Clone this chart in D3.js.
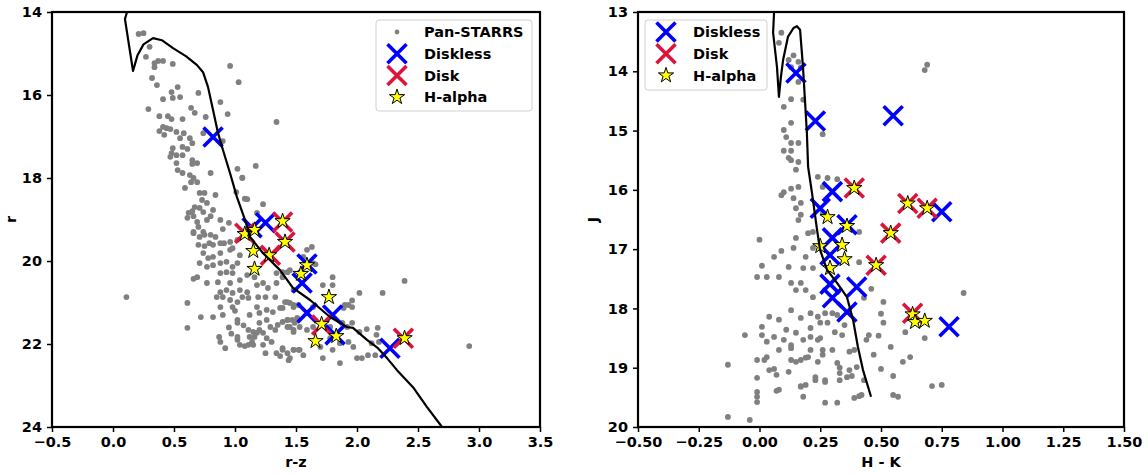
<!DOCTYPE html>
<html>
<head>
<meta charset="utf-8">
<script src="https://cdn.jsdelivr.net/npm/d3@7"></script>
<style>
  html, body { margin: 0; padding: 0; background: #fff; }
  svg text { font-family: "DejaVu Sans", sans-serif; font-weight: bold; }
</style>
</head>
<body>
<svg id="chart" width="1148" height="474"></svg>
<script>
// ---------- Left panel: r vs r-z ----------
const leftXTicks = [-0.5, 0.0, 0.5, 1.0, 1.5, 2.0, 2.5, 3.0, 3.5];
const leftYTicks = [14, 16, 18, 20, 22, 24];

// Pan-STARRS field stars [r-z, r]
const panstarrs = [
  [0.21,14.53],[0.25,14.51],[0.30,14.84],[0.27,15.08],[0.34,15.23],[0.37,15.18],[0.41,15.18],[0.34,15.33],
  [0.49,15.25],[0.96,15.30],[0.32,15.59],[0.36,15.76],[1.03,15.69],[0.48,15.93],[0.53,15.81],[0.41,16.10],
  [0.49,16.07],[0.55,16.05],[0.70,15.95],[0.29,16.34],[0.64,16.31],[0.67,16.43],[0.88,16.17],[0.94,16.46],
  [0.38,16.51],[0.45,16.51],[0.48,16.58],[0.57,16.58],[0.76,16.53],[1.34,16.65],[0.38,16.87],[0.41,16.77],
  [0.44,16.80],[0.47,16.82],[0.42,16.96],[0.52,16.89],[0.58,16.92],[0.74,16.92],[0.55,17.04],[0.63,17.04],
  [0.65,17.16],[0.90,17.11],[0.49,17.28],[0.57,17.25],[0.61,17.30],[0.48,17.40],[0.52,17.45],[0.57,17.45],
  [0.47,17.49],[0.65,17.57],[0.69,17.64],[0.65,17.66],[1.17,17.71],[1.02,17.78],[0.52,17.64],[0.53,17.81],
  [0.57,17.88],[0.80,17.88],[1.06,18.00],[0.63,17.93],[0.66,18.00],[0.64,18.10],[0.69,18.10],[0.59,18.24],
  [1.01,18.34],[0.71,18.36],[0.75,18.36],[0.84,18.41],[1.10,18.51],[0.73,18.53],[0.77,18.60],[1.23,18.63],
  [0.67,18.70],[0.71,18.72],[0.65,18.80],[0.62,18.84],[0.66,18.92],[0.61,18.96],[0.74,18.82],[0.82,18.77],
  [0.80,18.92],[0.77,19.01],[0.69,19.06],[0.70,19.18],[0.88,19.01],[0.95,19.08],[0.90,19.23],[0.66,19.30],
  [0.74,19.30],[0.80,19.37],[0.84,19.42],[1.18,18.84],
  [0.66,19.33],[0.71,19.42],[0.75,19.37],[0.70,19.61],[0.75,19.64],[0.79,19.57],[0.82,19.61],[0.88,19.57],
  [0.91,19.57],[0.96,19.54],[0.98,19.69],[1.02,19.49],[0.88,19.81],[0.96,19.73],[1.04,19.86],[0.74,19.81],
  [0.78,19.93],[0.82,19.90],[0.71,20.05],[0.77,20.14],[0.82,20.10],[0.88,20.05],[0.93,20.02],[0.98,20.14],
  [1.02,20.05],[0.88,20.29],[0.93,20.27],[0.98,20.29],[1.04,20.46],[0.69,20.39],[0.66,20.43],[0.77,20.53],
  [0.86,20.51],[0.96,20.53],[0.88,20.75],[0.93,20.70],[0.98,20.77],[1.04,20.70],[1.10,20.75],[0.85,20.87],
  [0.90,20.87],[0.96,20.94],[1.02,20.99],[1.06,20.87],[1.11,20.89],[0.11,20.87],[0.61,21.01],[0.88,21.11],
  [0.98,21.11],[0.90,21.30],[0.72,21.35],[0.82,21.35],[1.02,21.42],[1.02,21.49],[0.61,21.61],[0.87,21.83],
  [0.88,21.95],[0.92,22.10],[1.02,21.90],[1.02,21.83],[1.11,21.66],[1.15,21.71],[1.12,21.83],[1.16,21.83],
  [1.18,21.73],[1.20,21.66],[1.23,21.73],[1.26,21.86],[1.04,22.02],[1.08,22.05],[1.11,22.02],[1.15,22.02],
  [1.23,22.02],[1.25,22.22],[1.34,22.22],[1.37,22.29],[1.39,22.14],[1.43,22.22],[1.44,22.39],[1.48,22.14],
  [1.52,22.14],[1.29,21.59],[1.33,21.66],[1.35,21.54],[1.43,21.42],[1.47,21.42],[1.49,21.49],[1.43,21.59],
  [1.48,21.66],[1.20,21.49],[1.26,21.42],[1.31,21.23],[1.37,21.13],[1.41,20.99],[1.45,21.01],[1.20,21.25],
  [1.26,21.18],[1.18,21.11],[1.19,20.87],[1.25,20.87],[1.33,20.87],[1.18,20.58],[1.23,20.53],[1.34,20.53],
  [1.27,20.65],[1.16,20.39],[1.10,20.34],[1.34,20.29],[1.39,20.39],[1.48,20.70],[1.48,21.11],
  [1.63,19.66],[1.59,19.73],[1.56,19.90],[1.43,20.27],[1.39,20.27],[1.45,20.22],[2.39,20.48],[2.02,20.77],
  [2.21,20.77],[1.80,20.39],[1.72,20.58],[1.80,20.58],[1.43,20.99],[1.39,21.13],[1.48,21.06],[1.52,21.06],
  [1.64,21.11],[1.90,21.06],[1.93,21.06],[1.96,21.11],[1.89,21.13],[1.43,21.42],[1.51,21.37],[1.39,21.47],
  [1.45,21.59],[1.48,21.71],[1.53,21.59],[1.59,21.66],[1.64,21.59],[1.78,21.59],[1.88,21.49],[1.92,21.59],
  [1.96,21.49],[2.02,21.71],[2.08,21.64],[2.17,21.61],[2.16,21.78],[1.93,21.95],[1.86,21.98],[1.78,21.86],
  [1.97,22.07],[2.12,21.98],[2.18,21.95],[1.39,22.10],[1.48,22.14],[1.53,22.14],[1.56,22.27],[1.45,22.34],
  [1.70,22.07],[1.72,22.34],[1.80,22.14],[1.86,22.46],[2.00,22.34],[2.04,22.34],[2.09,22.27],[2.15,22.27],
  [2.92,22.05],[1.06,17.99],[1.08,18.50],[1.64,20.05],[1.66,20.08],[1.96,20.95],
  [0.95,21.60],[0.97,21.75],[1.07,21.55],[1.14,21.95],[1.30,21.95],[1.00,21.20],[1.12,21.30]
];
const disklessRZ = [
  [0.82,17.01],[1.25,19.08],[1.14,19.20],[1.59,20.07],[1.55,20.53],[1.59,21.25],[1.80,21.30],[1.82,21.78],[2.27,22.10]
];
const diskRZ = [
  [1.39,19.06],[1.08,19.33],[1.41,19.54],[1.29,19.86],[1.71,21.54],[2.38,21.86]
];
const halphaRZ = [
  [1.39,19.04],[1.16,19.25],[1.08,19.35],[1.41,19.54],[1.15,19.76],[1.28,19.86],[1.16,20.19],
  [1.59,20.10],[1.54,20.31],[1.77,20.87],[1.71,21.52],[1.83,21.81],[1.66,21.93],[2.39,21.86]
];
const isochroneRZ = [
  [0.115,14.0],[0.098,14.17],[0.164,15.42],[0.200,15.05],[0.250,14.78],[0.328,14.63],[0.40,14.68],[0.492,14.87],
  [0.600,15.07],[0.689,15.28],[0.738,15.45],[0.779,15.81],[0.820,16.36],[0.861,16.92],[0.902,17.33],
  [0.959,17.88],[1.016,18.46],[1.082,19.01],[1.123,19.42],[1.230,19.81],[1.369,20.22],[1.475,20.65],
  [1.615,20.94],[1.779,21.35],[1.918,21.59],[1.967,21.61],[2.082,21.90],[2.172,22.10],[2.246,22.34],
  [2.328,22.63],[2.459,23.04],[2.574,23.52],[2.697,24.0]
];

// ---------- Right panel: J vs H - K ----------
const rightXTicks = [-0.5, -0.25, 0.0, 0.25, 0.5, 0.75, 1.0, 1.25, 1.5];
const rightYTicks = [13, 14, 15, 16, 17, 18, 19, 20];

// 2MASS field stars [H-K, J]
const fieldHK = [
  [0.09,13.35],[0.08,13.52],[0.14,13.73],[0.12,13.81],[0.16,13.84],[0.13,13.93],[0.17,13.94],[0.16,14.18],
  [0.13,14.47],[0.10,14.60],[0.18,14.48],[0.13,14.87],[0.10,14.99],[0.26,15.06],[0.11,15.11],[0.13,15.21],
  [0.16,15.21],[0.10,15.34],[0.13,15.34],[0.12,15.46],[0.69,13.89],[0.68,13.98],
  [0.15,15.66],[0.13,15.50],[0.16,15.53],[0.24,15.78],[0.28,15.80],[0.32,15.82],[0.13,15.98],[0.16,15.95],
  [0.10,16.04],[0.09,16.09],[0.14,16.14],[0.17,16.22],[0.15,16.31],[0.17,16.42],[0.16,16.51],[0.22,16.71],
  [0.20,16.73],[0.15,16.81],[0.14,16.98],[0.00,16.84],[0.09,17.03],[0.06,17.13],[0.22,16.98],[0.19,17.13],
  [0.18,17.32],[0.22,17.32],[0.12,17.30],[0.01,17.28],[0.41,17.22],[0.41,16.71],[0.26,16.39],[0.26,15.95],
  [-0.06,18.45],[-0.04,19.88],[-0.01,19.17],[-0.01,19.49],[-0.01,19.41],[-0.01,19.58],[0.07,19.39],[0.06,19.02],
  [0.07,19.12],[0.12,19.07],[0.17,19.31],[0.18,19.49],[0.27,19.59],[0.32,19.59],[0.23,19.21],[0.27,19.21],
  [0.33,19.21],[0.36,19.16],[0.38,19.14],[0.40,18.99],[0.37,19.04],[0.33,19.09],[0.39,19.51],[0.41,19.48],
  [0.42,19.46],[0.55,19.14],[0.55,19.46],[0.57,19.49],[0.54,18.65],[0.50,19.02],[0.47,18.78],[0.43,19.21],
  [0.51,18.24],[0.50,18.09],[0.51,17.89],[0.45,18.45],[0.44,18.53],[0.13,17.57],[0.17,17.57],[0.15,17.69],
  [0.19,17.69],[0.22,17.81],[-0.01,17.47],[0.03,17.47],[0.08,17.47],[0.13,18.03],[0.17,18.16],[0.21,18.08],
  [0.24,18.14],[0.27,18.08],[0.30,18.08],[0.32,18.11],[0.25,18.24],[0.28,18.24],[0.35,18.28],[0.21,18.33],
  [0.15,18.41],[0.21,18.48],[0.31,18.40],[0.34,18.45],[0.24,18.53],[0.25,18.50],[0.30,18.70],[0.37,18.73],
  [0.39,18.70],[0.26,18.70],[0.26,18.78],[0.20,18.82],[0.21,18.70],[0.17,18.87],[0.19,18.83],[0.13,18.87],
  [0.08,18.70],[0.13,18.62],[0.03,18.56],[0.02,18.87],[0.46,17.67],[0.43,17.82],[0.49,18.46],
  [-0.13,18.95],[-0.13,19.83],
  [0.84,17.74],[0.60,18.40],[0.68,18.50],[0.62,18.82],[0.59,18.90],[0.71,19.31],[0.75,19.29],
  [0.04,19.04],[0.08,19.37],[-0.01,18.87],[0.03,18.82],[0.15,18.90],[0.24,18.90],[0.19,19.29],[0.17,19.32],
  [0.27,19.24],[0.32,18.92],[0.33,19.00],[0.23,19.16],[0.11,18.36],[0.08,18.19],[0.04,18.14],[0.06,18.48],
  [0.01,18.45],[0.01,18.31],[0.10,18.53],[0.13,18.67],[0.18,18.53]
];
const disklessHK = [
  [0.15,14.03],[0.23,14.84],[0.55,14.75],[0.30,16.03],[0.25,16.31],[0.36,16.59],[0.30,16.81],
  [0.29,17.10],[0.29,17.59],[0.30,17.82],[0.40,17.64],[0.36,18.06],[0.75,16.37],[0.78,18.31]
];
const diskHK = [
  [0.39,15.97],[0.54,16.73],[0.48,17.27],[0.61,16.23],[0.69,16.31],[0.63,18.08]
];
const halphaHK = [
  [0.39,15.97],[0.54,16.73],[0.48,17.27],[0.61,16.23],[0.69,16.31],[0.63,18.10],[0.64,18.23],
  [0.68,18.21],[0.28,16.46],[0.36,16.61],[0.25,16.95],[0.34,16.93],[0.35,17.17],[0.29,17.32]
];
const isochroneHK = [
  [0.060,13.0],[0.056,13.35],[0.072,13.93],[0.080,14.43],[0.088,14.10],[0.097,13.81],[0.117,13.42],
  [0.140,13.27],[0.154,13.24],[0.167,13.30],[0.179,13.93],[0.187,14.48],[0.195,15.04],[0.200,15.61],
  [0.216,16.05],[0.237,16.68],[0.249,17.01],[0.278,17.35],[0.319,17.57],[0.360,17.81],[0.385,18.19],
  [0.405,18.65],[0.426,19.04],[0.459,19.49]
];

const legendLeft = ["Pan-STARRS", "Diskless", "Disk", "H-alpha"];
const legendRight = ["Diskless", "Disk", "H-alpha"];

// ---------- drawing ----------
const svg = d3.select("#chart");
const FONT = 14.5;
const BLUE = "#0000ff", RED = "#dc143c", GREY = "#808080", YELLOW = "#ffff00";

function starPath(R) {
  const r = R * 0.382, pts = [];
  for (let i = 0; i < 10; i++) {
    const a = -Math.PI / 2 + i * Math.PI / 5, rr = i % 2 ? r : R;
    pts.push([rr * Math.cos(a), rr * Math.sin(a)]);
  }
  return "M" + pts.map(p => p[0].toFixed(2) + "," + p[1].toFixed(2)).join("L") + "Z";
}
const STAR = starPath(8);
const XH = 9.5;
const xPath = `M${-XH},${-XH}L${XH},${XH}M${-XH},${XH}L${XH},${-XH}`;

function panel(cfg) {
  const x = d3.scaleLinear().domain(cfg.xDomain).range([cfg.left, cfg.right]);
  const y = d3.scaleLinear().domain(cfg.yDomain).range([cfg.top, cfg.bottom]);
  const g = svg.append("g");
  const clipId = "clip" + cfg.id;
  svg.append("clipPath").attr("id", clipId).append("rect")
    .attr("x", cfg.left).attr("y", cfg.top)
    .attr("width", cfg.right - cfg.left).attr("height", cfg.bottom - cfg.top);

  const plot = g.append("g").attr("clip-path", `url(#${clipId})`);

  // field stars
  plot.append("g").selectAll("circle").data(cfg.field).join("circle")
    .attr("cx", d => x(d[0])).attr("cy", d => y(d[1])).attr("r", 2.9).attr("fill", GREY);
  // diskless members
  plot.append("g").selectAll("path").data(cfg.diskless).join("path")
    .attr("transform", d => `translate(${x(d[0])},${y(d[1])})`)
    .attr("d", xPath).attr("stroke", BLUE).attr("stroke-width", 3.6).attr("fill", "none");
  // disk members
  plot.append("g").selectAll("path").data(cfg.disk).join("path")
    .attr("transform", d => `translate(${x(d[0])},${y(d[1])})`)
    .attr("d", xPath).attr("stroke", RED).attr("stroke-width", 3.6).attr("fill", "none");
  // H-alpha emitters
  plot.append("g").selectAll("path").data(cfg.halpha).join("path")
    .attr("transform", d => `translate(${x(d[0])},${y(d[1])})`)
    .attr("d", STAR).attr("fill", YELLOW).attr("stroke", "#000").attr("stroke-width", 1);
  // isochrone
  plot.append("path").datum(cfg.iso)
    .attr("d", d3.line().x(d => x(d[0])).y(d => y(d[1])))
    .attr("fill", "none").attr("stroke", "#000").attr("stroke-width", 2.2)
    .attr("stroke-linejoin", "round");

  // axes
  const xAxis = d3.axisBottom(x).tickValues(cfg.xTicks).tickFormat(d3.format(cfg.xFmt))
    .tickSize(5).tickSizeOuter(0).tickPadding(5);
  const yAxis = d3.axisLeft(y).tickValues(cfg.yTicks).tickFormat(d3.format("d"))
    .tickSize(5).tickSizeOuter(0).tickPadding(5);
  const gx = g.append("g").attr("transform", `translate(0,${cfg.bottom})`).call(xAxis);
  const gy = g.append("g").attr("transform", `translate(${cfg.left},0)`).call(yAxis);
  [gx, gy].forEach(a => {
    a.select(".domain").remove();
    a.selectAll(".tick line").attr("stroke", "#000").attr("stroke-width", 1.5);
    a.selectAll(".tick text").attr("font-size", FONT).attr("fill", "#000")
      .attr("font-family", "DejaVu Sans").attr("font-weight", "bold");
  });

  // frame
  g.append("rect").attr("x", cfg.left).attr("y", cfg.top)
    .attr("width", cfg.right - cfg.left).attr("height", cfg.bottom - cfg.top)
    .attr("fill", "none").attr("stroke", "#000").attr("stroke-width", 2.2);

  // axis titles
  g.append("text").attr("x", (cfg.left + cfg.right) / 2).attr("y", 467)
    .attr("text-anchor", "middle").attr("font-size", FONT).text(cfg.xLabel);
  g.append("text").attr("transform", `translate(${cfg.yLabelX},${(cfg.top + cfg.bottom) / 2}) rotate(-90)`)
    .attr("text-anchor", "middle").attr("font-size", FONT).text(cfg.yLabel);

  // legend
  const L = cfg.legend;
  const lg = g.append("g");
  lg.append("rect").attr("x", L.x).attr("y", L.y).attr("width", L.w).attr("height", L.h)
    .attr("rx", 3).attr("fill", "#fff").attr("fill-opacity", 0.8)
    .attr("stroke", "#d0d0d0").attr("stroke-width", 1);
  L.items.forEach((name, i) => {
    const cy = L.y + 12 + i * 21.7;
    const mx = L.x + 21;
    const item = lg.append("g").attr("transform", `translate(${mx},${cy})`);
    if (name === "Pan-STARRS") item.append("circle").attr("r", 2.4).attr("fill", GREY);
    else if (name === "Diskless") item.append("path").attr("d", xPath).attr("stroke", BLUE).attr("stroke-width", 3.6);
    else if (name === "Disk") item.append("path").attr("d", xPath).attr("stroke", RED).attr("stroke-width", 3.6);
    else item.append("path").attr("d", STAR).attr("fill", YELLOW).attr("stroke", "#000").attr("stroke-width", 1);
    lg.append("text").attr("x", L.x + 48).attr("y", cy + 5.2).attr("font-size", FONT).text(name);
  });
}

panel({
  id: "L", left: 52, right: 540, top: 12, bottom: 427,
  xDomain: [-0.5, 3.5], yDomain: [14, 24],
  xTicks: leftXTicks, yTicks: leftYTicks, xFmt: ".1f",
  field: panstarrs, diskless: disklessRZ, disk: diskRZ, halpha: halphaRZ, iso: isochroneRZ,
  xLabel: "r-z", yLabel: "r", yLabelX: 16,
  legend: { x: 376, y: 20, w: 156, h: 91, items: legendLeft }
});

panel({
  id: "R", left: 638, right: 1124, top: 12, bottom: 427,
  xDomain: [-0.5, 1.5], yDomain: [13, 20],
  xTicks: rightXTicks, yTicks: rightYTicks, xFmt: ".2f",
  field: fieldHK, diskless: disklessHK, disk: diskHK, halpha: halphaHK, iso: isochroneHK,
  xLabel: "H - K", yLabel: "J", yLabelX: 598,
  legend: { x: 645, y: 20, w: 122, h: 70, items: legendRight }
});
</script>
</body>
</html>
